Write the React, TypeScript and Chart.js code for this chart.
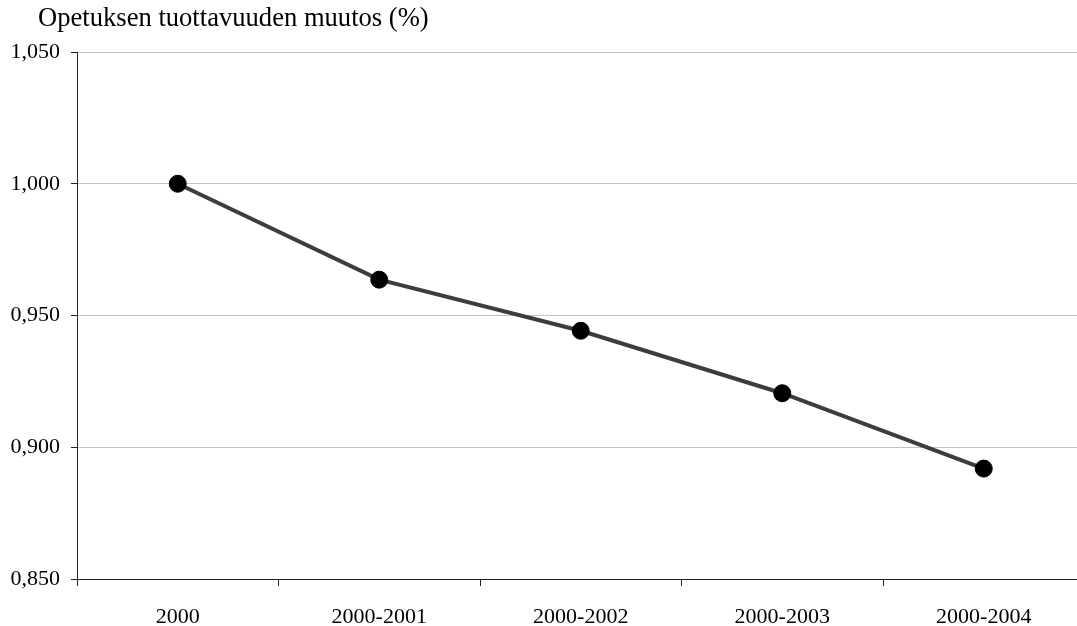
import React, { useEffect, useRef } from "react";
import { Chart, registerables } from "chart.js";

Chart.register(...registerables);

const periods = ["2000", "2000-2001", "2000-2002", "2000-2003", "2000-2004"];
const productivityIndex = [1.0, 0.9636, 0.9442, 0.9205, 0.8919];
const yTicks = [0.85, 0.9, 0.95, 1.0, 1.05];
const caption = "Opetuksen tuottavuuden muutos (%)";

const SERIF = "'Liberation Serif', 'Times New Roman', serif";

const fmt = (v: number) => v.toFixed(3).replace(".", ",");

const captionPlugin = {
  id: "caption",
  afterDraw(chart: Chart) {
    const ctx = chart.ctx;
    ctx.save();
    ctx.font = `26.6px ${SERIF}`;
    ctx.fillStyle = "#000";
    ctx.textAlign = "left";
    ctx.textBaseline = "alphabetic";
    ctx.fillText(caption, 38, 26);
    ctx.restore();
  },
};

export default function App() {
  const ref = useRef<HTMLCanvasElement | null>(null);

  useEffect(() => {
    if (!ref.current) return;
    const chart = new Chart(ref.current, {
      type: "line",
      data: {
        labels: periods,
        datasets: [
          {
            data: productivityIndex,
            borderColor: "#3d3d3d",
            borderWidth: 4,
            pointRadius: 8.5,
            pointBorderWidth: 1,
            pointBackgroundColor: "#000",
            pointBorderColor: "#000",
            tension: 0,
          },
        ],
      },
      options: {
        animation: false,
        responsive: false,
        layout: { padding: { top: 52, right: 4, left: 0, bottom: 0 } },
        plugins: {
          legend: { display: false },
          title: { display: false },
          tooltip: { enabled: false },
        },
        scales: {
          x: {
            offset: true,
            afterFit: (s: any) => {
              s.height = 47;
            },
            grid: {
              offset: true,
              drawOnChartArea: false,
              drawTicks: true,
              tickLength: 7,
              tickColor: "#222",
            },
            border: { color: "#222", width: 1 },
            ticks: {
              color: "#000",
              font: { family: SERIF, size: 22 },
              padding: 18,
              maxRotation: 0,
              autoSkip: false,
            },
          },
          y: {
            min: 0.85,
            max: 1.05,
            afterFit: (s: any) => {
              s.width = 77;
            },
            afterBuildTicks: (s: any) => {
              s.ticks = yTicks.map((v) => ({ value: v }));
            },
            grid: {
              color: "#c4c4c4",
              lineWidth: 1,
              drawTicks: true,
              tickLength: 6,
              tickColor: "#222",
            },
            border: { color: "#222", width: 1 },
            ticks: {
              color: "#000",
              font: { family: SERIF, size: 22 },
              padding: 11,
              callback: (v: any) => fmt(Number(v)),
            },
          },
        },
      },
      plugins: [captionPlugin],
    });
    return () => chart.destroy();
  }, []);

  return (
    <div
      style={{
        position: "fixed",
        left: 0,
        top: 0,
        width: 1077,
        height: 626,
        overflow: "hidden",
        background: "#fff",
      }}
    >
      <canvas ref={ref} width={1094} height={626} />
    </div>
  );
}
